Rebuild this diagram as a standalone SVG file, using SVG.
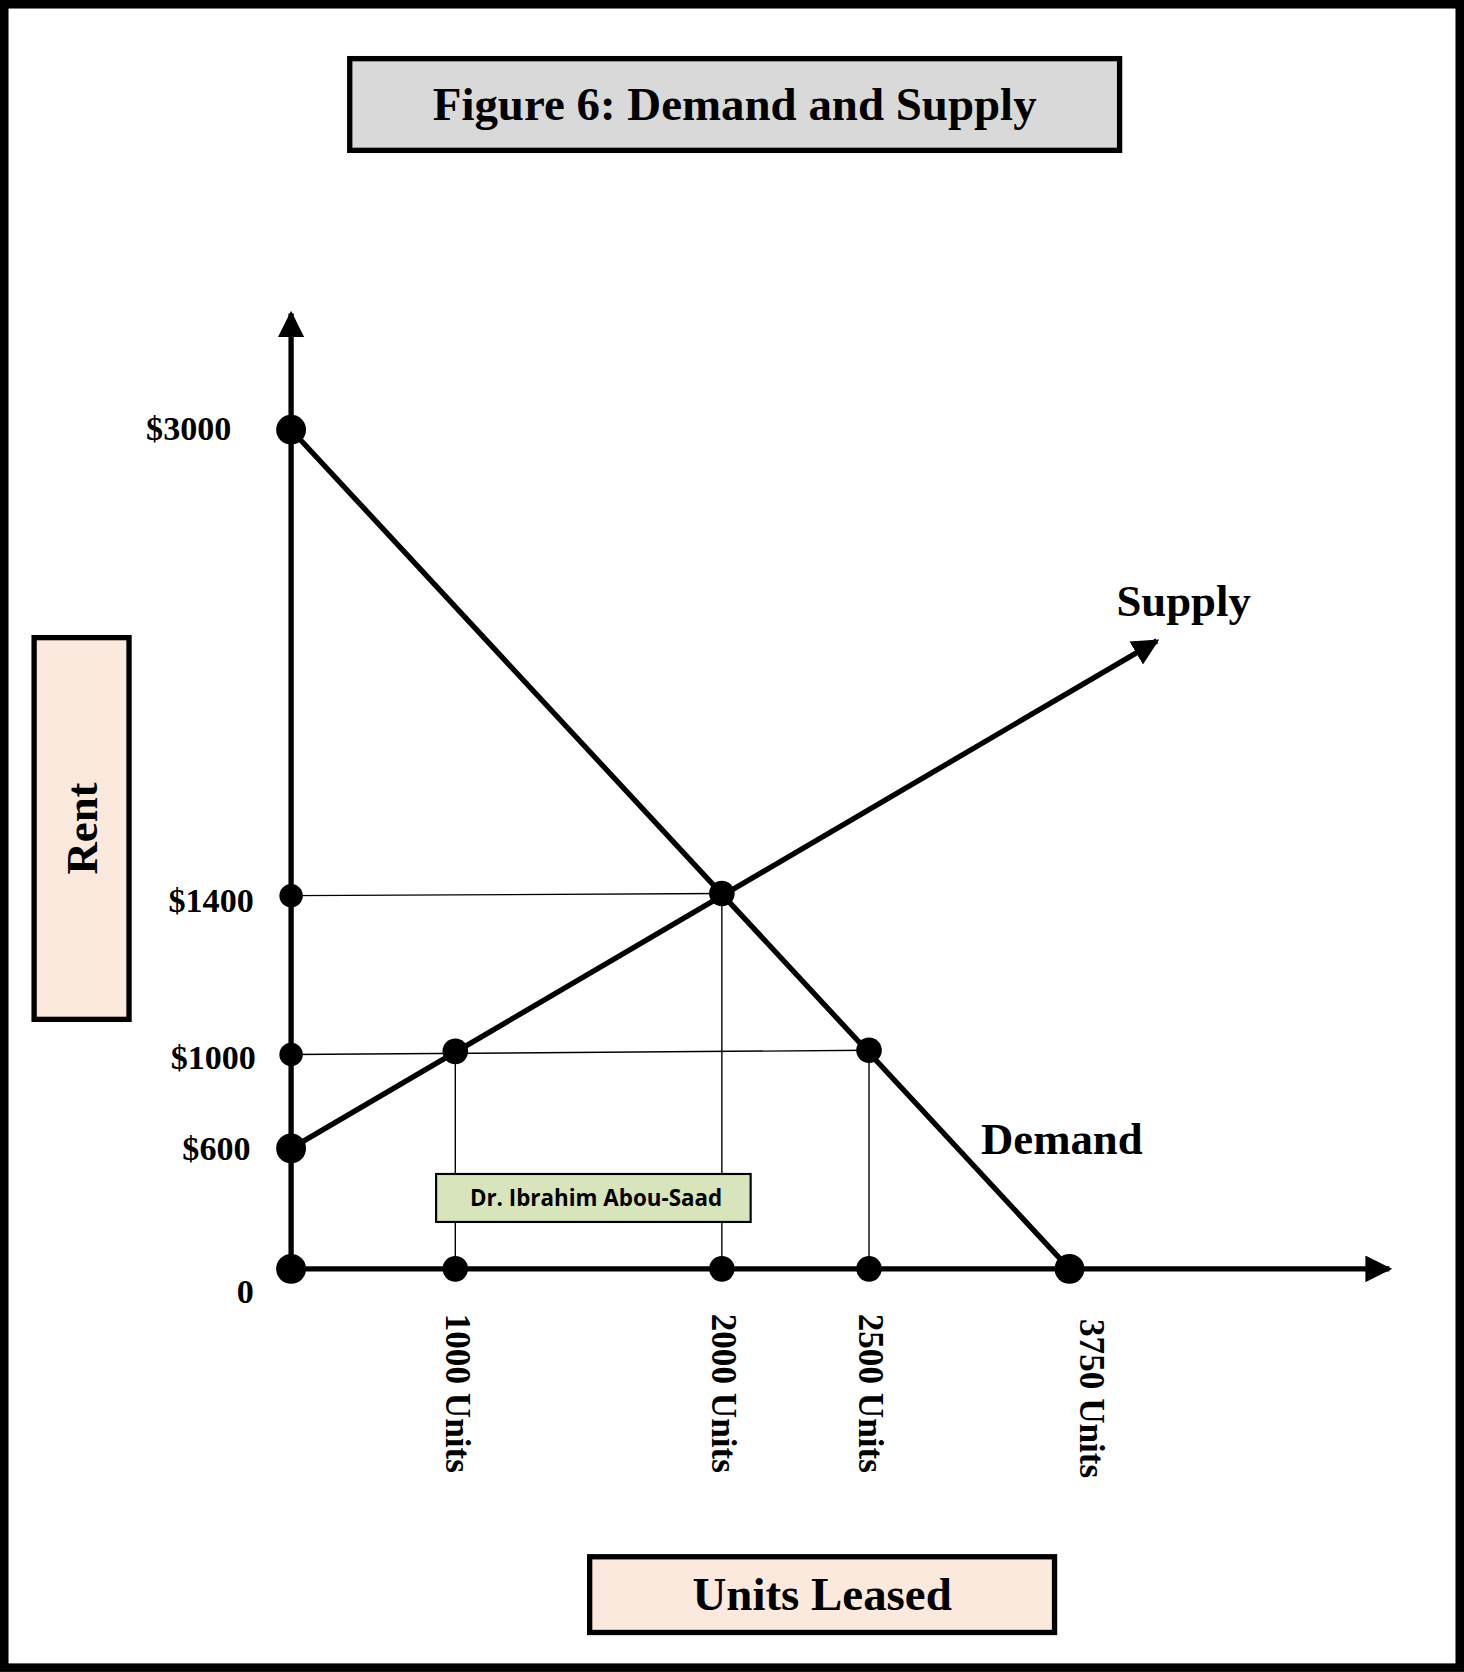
<svg xmlns="http://www.w3.org/2000/svg" width="1464" height="1672" viewBox="0 0 1464 1672">
<defs>
<style>
.t{font-family:"Liberation Serif","Times New Roman",serif;font-weight:bold;fill:#000}
.thin{stroke:#000;stroke-width:1.3;fill:none}
.thick{stroke:#000;stroke-width:5;fill:none}
.box{stroke:#000;stroke-width:5}
</style>
<marker id="ah" viewBox="0 0 10 10" refX="9" refY="5" markerWidth="5" markerHeight="5" orient="auto" markerUnits="strokeWidth"><path d="M0,0 L10,5 L0,10 z" fill="#000"/></marker>
</defs>
<rect width="1464" height="1672" fill="#fff"/>
<g transform="scale(1.06628)">
<rect x="4" y="4" width="1365" height="1560" fill="none" stroke="#000" stroke-width="8"/>
<g id="title"><rect class="box" x="328" y="55" width="722" height="86" fill="#d9d9d9"/><text class="t" x="689" y="113" font-size="44" text-anchor="middle">Figure 6: Demand and Supply</text></g>
<g id="rent"><rect class="box" x="32" y="598" width="89" height="358" fill="#fbe9dd"/><text class="t" transform="translate(91,777) rotate(-90)" font-size="42" text-anchor="middle">Rent</text></g>
<g id="units"><rect class="box" x="553" y="1460" width="436" height="71" fill="#fbe9dd"/><text class="t" x="771" y="1510" font-size="44" text-anchor="middle">Units Leased</text></g>
<g id="connectors">
<line class="thick" x1="273" y1="1190" x2="273" y2="294" marker-end="url(#ah)"/>
<line class="thick" x1="273" y1="1190" x2="1303" y2="1190" marker-end="url(#ah)"/>
<line class="thick" x1="273" y1="403" x2="1003" y2="1190"/>
<line class="thick" x1="273" y1="1077" x2="1085" y2="601" marker-end="url(#ah)"/>
<line class="thin" x1="273" y1="840" x2="677" y2="838"/>
<line class="thin" x1="273" y1="989" x2="815" y2="985"/>
<line class="thin" x1="427" y1="986" x2="427" y2="1190"/>
<line class="thin" x1="677" y1="838" x2="677" y2="1190"/>
<line class="thin" x1="815" y1="985" x2="815" y2="1190"/>
</g>
<g id="dots" fill="#000">
<circle cx="273" cy="403" r="14"/><circle cx="273" cy="840" r="11"/><circle cx="273" cy="989" r="11"/><circle cx="273" cy="1077" r="14"/><circle cx="273" cy="1190" r="14"/>
<circle cx="427" cy="986" r="12"/><circle cx="677" cy="838" r="12"/><circle cx="815" cy="985" r="12"/>
<circle cx="427" cy="1190" r="12"/><circle cx="677" cy="1190" r="12"/><circle cx="815" cy="1190" r="12"/><circle cx="1003" cy="1190" r="14"/>
</g>
<g id="dr"><rect x="409" y="1101" width="295" height="45" fill="#d8e4bc" stroke="#000" stroke-width="2"/><text x="559" y="1131" font-family="'Open Sans','Noto Sans',sans-serif" font-weight="bold" font-size="21" text-anchor="middle">Dr. Ibrahim Abou-Saad</text></g>
<g id="labels" font-size="32">
<text class="t" x="217" y="413" text-anchor="end" font-size="32">$3000</text>
<text class="t" x="238" y="855" text-anchor="end" font-size="32">$1400</text>
<text class="t" x="240" y="1003" text-anchor="end" font-size="32">$1000</text>
<text class="t" x="235" y="1088" text-anchor="end" font-size="32">$600</text>
<text class="t" x="238" y="1222" text-anchor="end" font-size="32">0</text>
<text class="t" x="1047" y="578" font-size="42">Supply</text>
<text class="t" x="920" y="1082" font-size="42">Demand</text>
<text class="t" transform="translate(418,1232) rotate(90)" font-size="33">1000 Units</text>
<text class="t" transform="translate(668,1232) rotate(90)" font-size="33">2000 Units</text>
<text class="t" transform="translate(806,1232) rotate(90)" font-size="33">2500 Units</text>
<text class="t" transform="translate(1013,1237) rotate(90)" font-size="33">3750 Units</text>
</g>
</g>
</svg>
